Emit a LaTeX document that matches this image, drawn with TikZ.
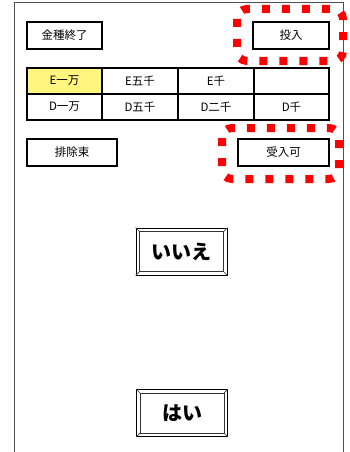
\documentclass[tikz,border=0pt]{standalone}
\usepackage{fontspec}
\setmainfont{Noto Sans CJK JP}
\usetikzlibrary{calc}
\definecolor{cellyellow}{HTML}{FFF57F}
\definecolor{framegray}{HTML}{505050}
\tikzset{
  box/.style={draw=black, line width=1.4pt, inner sep=0pt, font=\fontsize{11.5}{12}\selectfont},
  cell/.style={box, line width=1.4pt},
  reddots/.style={draw=red, line width=8pt, dash pattern=on 8pt off 12pt, rounded corners=10pt},
  btn/.style={draw=black, line width=0.8pt, inner sep=0pt, minimum width=91pt, minimum height=47pt, font=\fontsize{20}{22}\bfseries\selectfont},
  bevel/.style={draw=black!80, line width=0.7pt}
}
\begin{document}
\begin{tikzpicture}[x=1pt,y=-1pt]
\useasboundingbox (0,0) rectangle (350,452);
\fill[white] (0,0) rectangle (350,452);
% frame
\draw[framegray, line width=1pt] (14,452) -- (14,3) -- (343,3) -- (343,452);
% top buttons
\node[box, minimum width=75pt, minimum height=27pt] (kinshu) at (64.5,35.5) {金種終了};
\node[box, minimum width=76pt, minimum height=27pt] (tounyu) at (291,35.5) {投入};
% table
\node[cell, fill=cellyellow, minimum width=75pt, minimum height=26pt] (e1) at (64.5,81) {E一万};
\node[cell, minimum width=76pt, minimum height=26pt] (e2) at (140,81) {E五千};
\node[cell, minimum width=76pt, minimum height=26pt] (e3) at (216,81) {E千};
\node[cell, minimum width=75pt, minimum height=26pt] (e4) at (291.5,81) {};
\node[cell, minimum width=75pt, minimum height=26pt] (d1) at (64.5,107) {D一万};
\node[cell, minimum width=76pt, minimum height=26pt] (d2) at (140,107) {D五千};
\node[cell, minimum width=76pt, minimum height=26pt] (d3) at (216,107) {D二千};
\node[cell, minimum width=75pt, minimum height=26pt] (d4) at (291.5,107) {D千};
% middle buttons
\node[box, minimum width=90pt, minimum height=27pt] (haijo) at (72,152.5) {排除束};
\node[box, minimum width=91pt, minimum height=27pt] (ukeire) at (283.5,152.5) {受入可};
% red dotted highlights
\draw[reddots] (237,9) rectangle (343,61);
\draw[reddots] (222,128) rectangle (339,179);
% bevel buttons
\node[btn] (iie) at (181.5,251.5) {いいえ};
\node[btn] (hai) at (182,413) {はい};
\foreach \b in {iie,hai}{
  \draw[bevel] ($(\b.north west)+(4,4)$) rectangle ($(\b.south east)+(-4,-4)$);
  \draw[bevel] (\b.north west) -- ($(\b.north west)+(4,4)$);
  \draw[bevel] (\b.north east) -- ($(\b.north east)+(-4,4)$);
  \draw[bevel] (\b.south west) -- ($(\b.south west)+(4,-4)$);
  \draw[bevel] (\b.south east) -- ($(\b.south east)+(-4,-4)$);
}
\end{tikzpicture}
\end{document}
